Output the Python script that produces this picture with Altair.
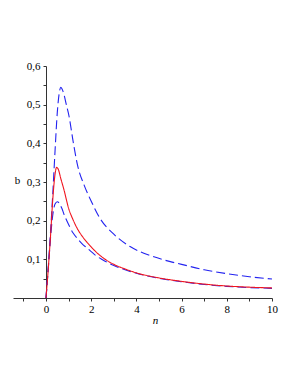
import altair as alt
import pandas as pd

# red solid curve
n_red = [0, 0.1, 0.2, 0.3, 0.4, 0.47, 0.55, 0.65, 0.8, 1.0, 1.2, 1.4, 1.6, 1.8, 2.0, 2.2, 2.5, 3.0, 3.5, 4.0, 5.0, 6.0, 7.0, 8.0, 9.0, 10.0]
b_red = [0, 0.075, 0.16, 0.255, 0.32, 0.338, 0.332, 0.31, 0.279, 0.232, 0.202, 0.178, 0.16, 0.145, 0.132, 0.12, 0.105, 0.087, 0.075, 0.065, 0.052, 0.043, 0.036, 0.031, 0.028, 0.026]

# lower blue dashed curve
n_lo = [0, 0.1, 0.2, 0.3, 0.4, 0.5, 0.6, 0.7, 0.8, 1.0, 1.2, 1.4, 1.6, 1.8, 2.0, 2.2, 2.5, 3.0, 3.5, 4.0, 5.0, 6.0, 7.0, 8.0, 9.0, 10.0]
b_lo = [0, 0.075, 0.155, 0.215, 0.243, 0.249, 0.244, 0.232, 0.216, 0.19, 0.168, 0.153, 0.14, 0.13, 0.12, 0.11, 0.099, 0.084, 0.073, 0.064, 0.051, 0.042, 0.035, 0.030, 0.027, 0.025]

# upper blue dashed curve
n_up = [0, 0.1, 0.2, 0.3, 0.4, 0.5, 0.6, 0.65, 0.75, 0.9, 1.02, 1.2, 1.39, 1.7, 1.98, 2.39, 3.0, 3.72, 4.6, 5.5, 6.0, 7.0, 8.0, 9.0, 10.0]
b_up = [0, 0.08, 0.17, 0.27, 0.38, 0.48, 0.535, 0.545, 0.535, 0.5, 0.47, 0.405, 0.345, 0.29, 0.253, 0.206, 0.165, 0.133, 0.11, 0.094, 0.087, 0.073, 0.063, 0.055, 0.049]

x_ticks = [-1, 0, 1, 2, 3, 4, 5, 6, 7, 8, 9, 10]
y_ticks = [0.05, 0.1, 0.15, 0.2, 0.25, 0.3, 0.35, 0.4, 0.45, 0.5, 0.55, 0.6]

FONT = "Liberation Serif, Times New Roman, serif"

x_scale = alt.Scale(domain=[-1.46, 10], nice=False, zero=False)
y_scale = alt.Scale(domain=[0, 0.6], nice=False)

x_axis = alt.Axis(
    values=x_ticks,
    labelExpr="datum.value >= 0 && datum.value % 2 == 0 ? format(datum.value, 'd') : ''",
    title="n", titleFontStyle="italic", titleFont=FONT, titleFontWeight="normal",
    titleFontSize=11, titleX=142, titleY=22, titleBaseline="middle", titleAlign="center",
    labelFont=FONT, labelFontSize=11, labelColor="#000", tickSize=3, labelPadding=2,
    domainColor="#333", tickColor="#333", grid=False, labelFlush=False,
)
y_axis = alt.Axis(
    values=y_ticks,
    labelExpr="round(datum.value * 100) % 10 == 0 ? replace(format(datum.value, '.1f'), '.', ',') : ''",
    title="b", titleAngle=0, titleX=-29, titleY=114, titleAlign="center", titleBaseline="middle",
    titleFont=FONT, titleFontWeight="normal", titleFontSize=11,
    labelFont=FONT, labelFontSize=11, labelColor="#000", tickSize=3, labelPadding=3,
    domainColor="#333", tickColor="#333", grid=False, offset=-33, labelFlush=False,
)

def layer(n, b, color, dash):
    df = pd.DataFrame({"n": n, "b": b})
    return alt.Chart(df).mark_line(color=color, strokeWidth=1.1, strokeDash=dash, interpolate="monotone").encode(
        x=alt.X("n:Q", scale=x_scale, axis=x_axis),
        y=alt.Y("b:Q", scale=y_scale, axis=y_axis),
    )

chart = alt.layer(
    layer(n_up, b_up, "#2323f0", [9, 4]),
    layer(n_lo, b_lo, "#2323f0", [9, 4]),
    layer(n_red, b_red, "#f0141e", [1, 0]),
).properties(
    width=259, height=232,
    autosize=alt.AutoSizeParams(type="none"),
    padding={"left": 5, "top": 58, "right": 18, "bottom": 60},
).configure_view(stroke=None)

chart.save("out.html", embed_options={"renderer": "svg", "actions": False})
